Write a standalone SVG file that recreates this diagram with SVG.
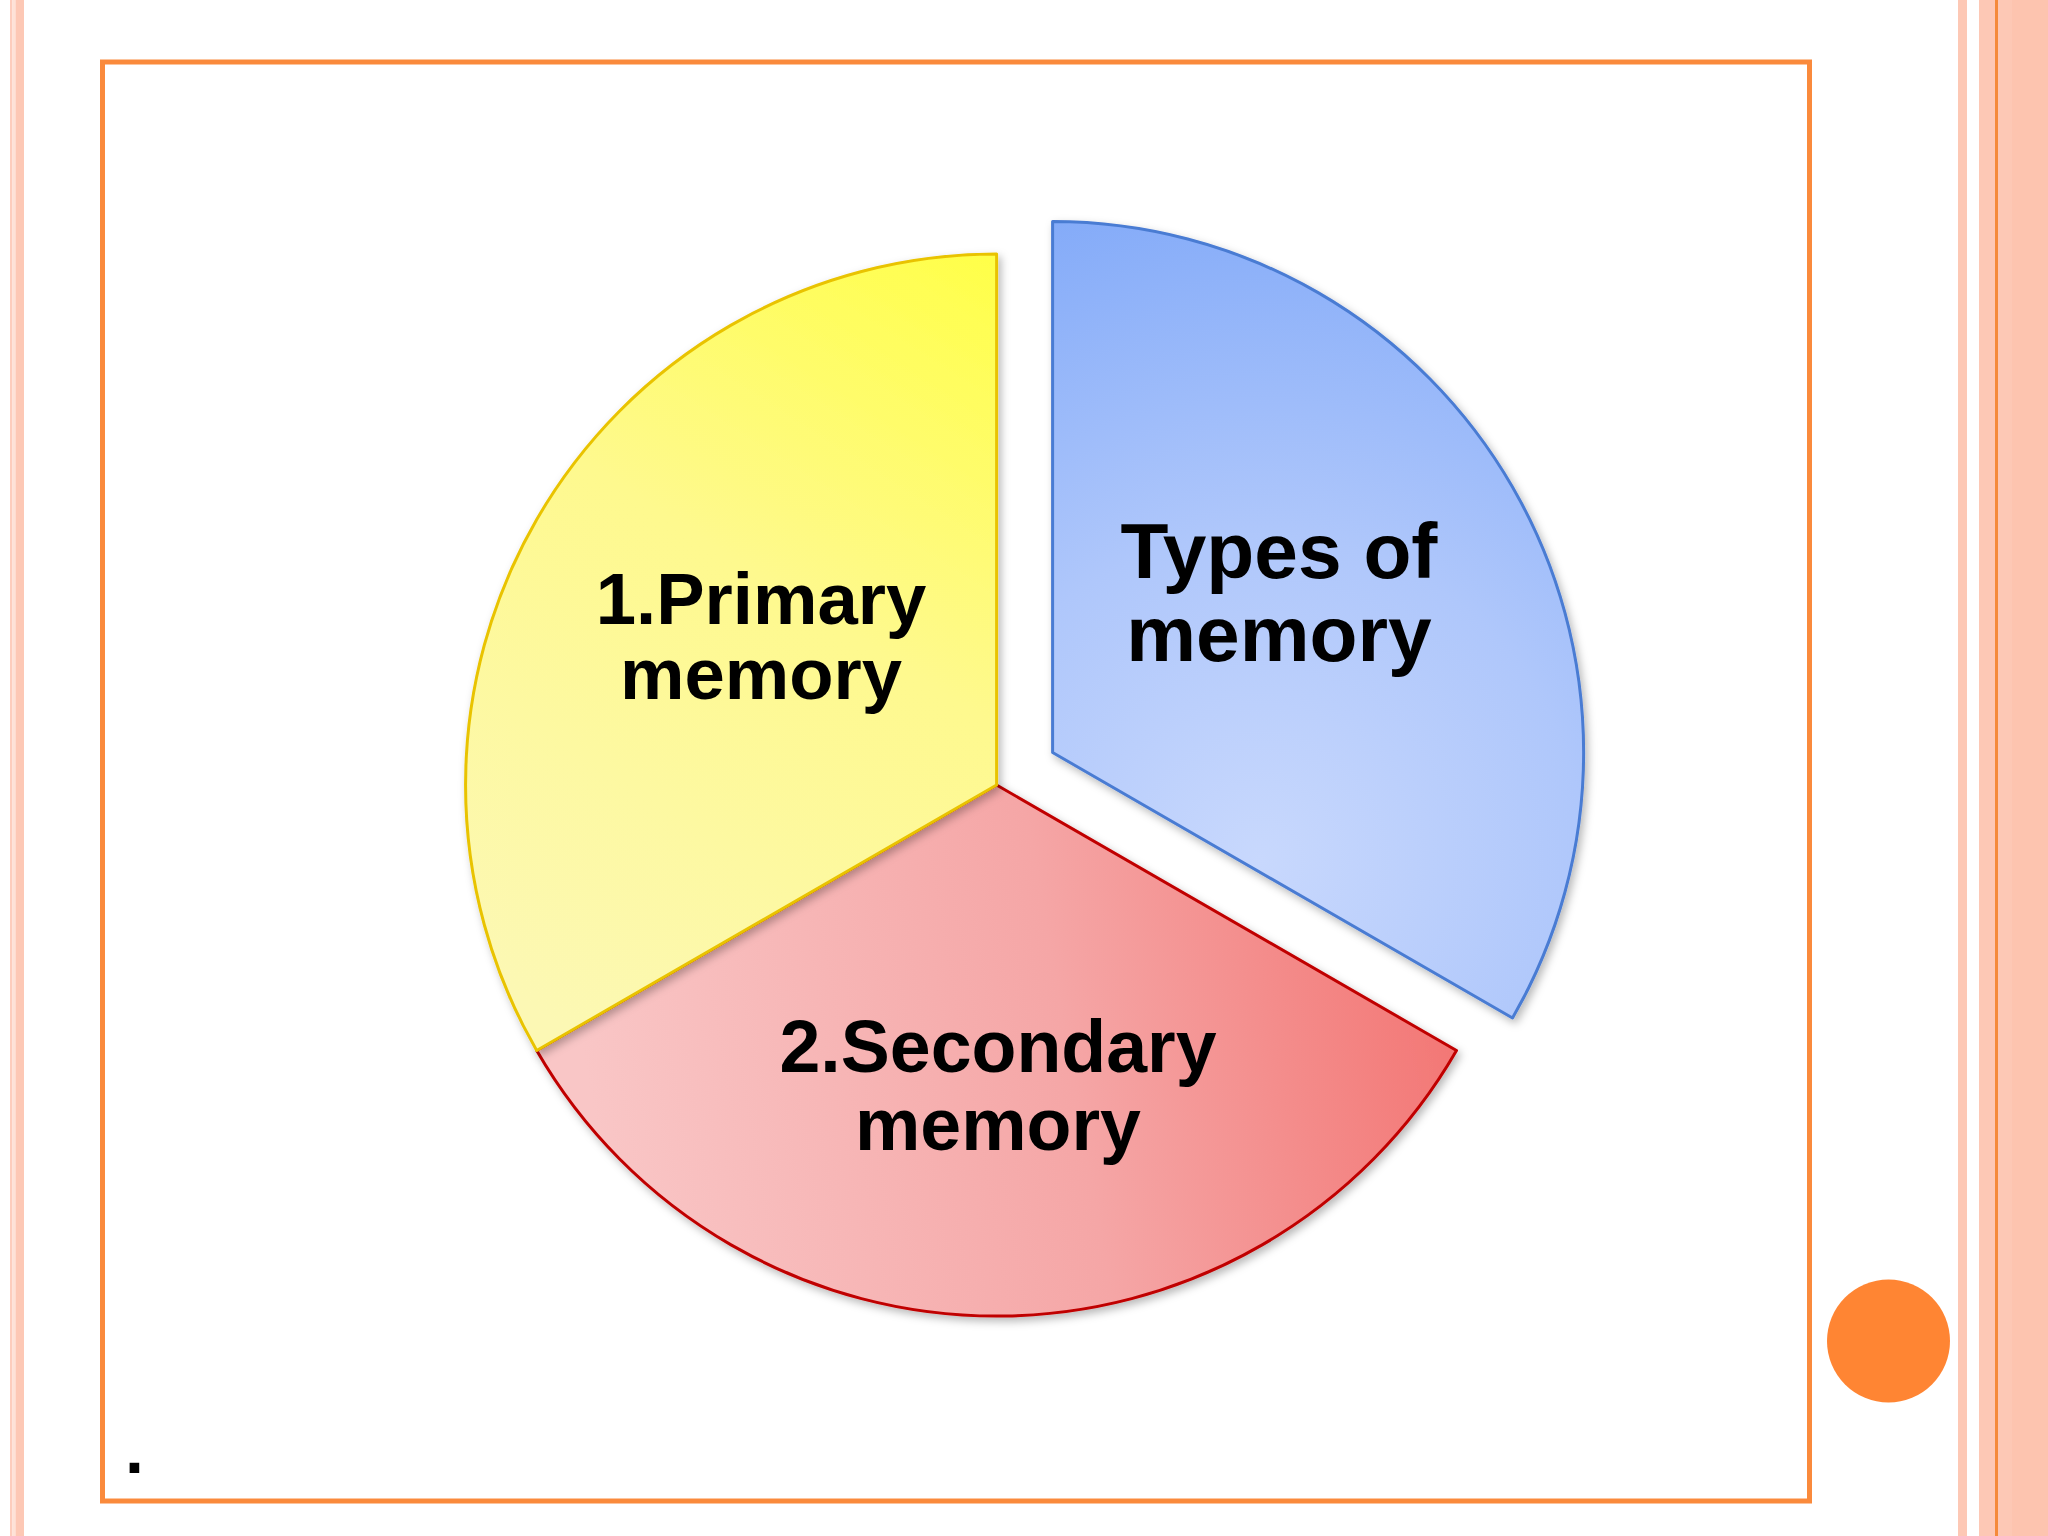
<svg xmlns="http://www.w3.org/2000/svg" width="2048" height="1536" viewBox="0 0 2048 1536">
<defs>
<style>
.lbl{font-family:"Liberation Sans",Arial,sans-serif;font-weight:bold;fill:#000;text-anchor:middle}
.stripe{fill:#FDC8B5}
</style>
<linearGradient id="gy" gradientUnits="userSpaceOnUse" x1="996" y1="254" x2="520" y2="1000">
<stop offset="0" stop-color="#FFFF48"/>
<stop offset="0.45" stop-color="#FEF98E"/>
<stop offset="1" stop-color="#FCF8B4"/>
</linearGradient>
<linearGradient id="gr" gradientUnits="userSpaceOnUse" x1="1456" y1="1000" x2="600" y2="1150">
<stop offset="0" stop-color="#F37674"/>
<stop offset="0.45" stop-color="#F5A6A6"/>
<stop offset="1" stop-color="#F9C6C6"/>
</linearGradient>
<radialGradient id="gb" gradientUnits="userSpaceOnUse" cx="1260" cy="860" r="720" fx="1260" fy="860">
<stop offset="0" stop-color="#C8D8FD"/>
<stop offset="0.45" stop-color="#AFC7FB"/>
<stop offset="1" stop-color="#7EA7F8"/>
</radialGradient>
<filter id="sh" x="-10%" y="-10%" width="120%" height="120%">
<feDropShadow dx="3" dy="4" stdDeviation="4" flood-color="#000" flood-opacity="0.28"/>
</filter>
</defs>
<rect x="0" y="0" width="2048" height="1536" fill="#fff"/>
<g id="background">
<rect x="10" y="0" width="2.5" height="1536" fill="#FDCDBD"/>
<rect x="12.5" y="0" width="3" height="1536" fill="#FEE2D7"/>
<rect x="15.5" y="0" width="8.5" height="1536" class="stripe"/>
<rect x="1958" y="0" width="9" height="1536" class="stripe"/>
<rect x="1979" y="0" width="69" height="1536" class="stripe"/>
<rect x="2012" y="0" width="36" height="1536" fill="#FDC4AF"/>
<rect x="1995" y="0" width="3" height="1536" fill="#F58A3A"/>
<rect x="102.5" y="62" width="1707" height="1439" fill="#fff" stroke="#FA8A3C" stroke-width="5"/>
<circle cx="1888.5" cy="1341" r="61.5" fill="#FF8533"/>
<text x="125" y="1473" font-family="Liberation Sans, Arial, sans-serif" font-weight="bold" font-size="68" fill="#000">.</text>
</g>
<g id="connectors"/>
<g id="secondary">
<path d="M996.6 785 L1456.5 1050.5 A531 531 0 0 1 536.7 1050.5 Z" fill="url(#gr)" stroke="#C00000" stroke-width="3" stroke-linejoin="round" filter="url(#sh)"/>
<text class="lbl" font-size="73.5"><tspan x="998" y="1072">2.Secondary</tspan><tspan x="998" y="1150">memory</tspan></text>
</g>
<g id="primary">
<path d="M996.6 785 L996.6 254 A531 531 0 0 0 536.7 1050.5 Z" fill="url(#gy)" stroke="#E9C300" stroke-width="3" stroke-linejoin="round" filter="url(#sh)"/>
<text class="lbl" font-size="72.5"><tspan x="761" y="624">1.Primary</tspan><tspan x="761" y="699">memory</tspan></text>
</g>
<g id="types">
<path d="M1052.6 752.5 L1052.6 221.5 A531 531 0 0 1 1512.5 1018 Z" fill="url(#gb)" stroke="#4A7BD3" stroke-width="3" stroke-linejoin="round" filter="url(#sh)"/>
<text class="lbl" font-size="78.5"><tspan x="1279" y="578">Types of</tspan><tspan x="1279" y="661">memory</tspan></text>
</g>
</svg>
